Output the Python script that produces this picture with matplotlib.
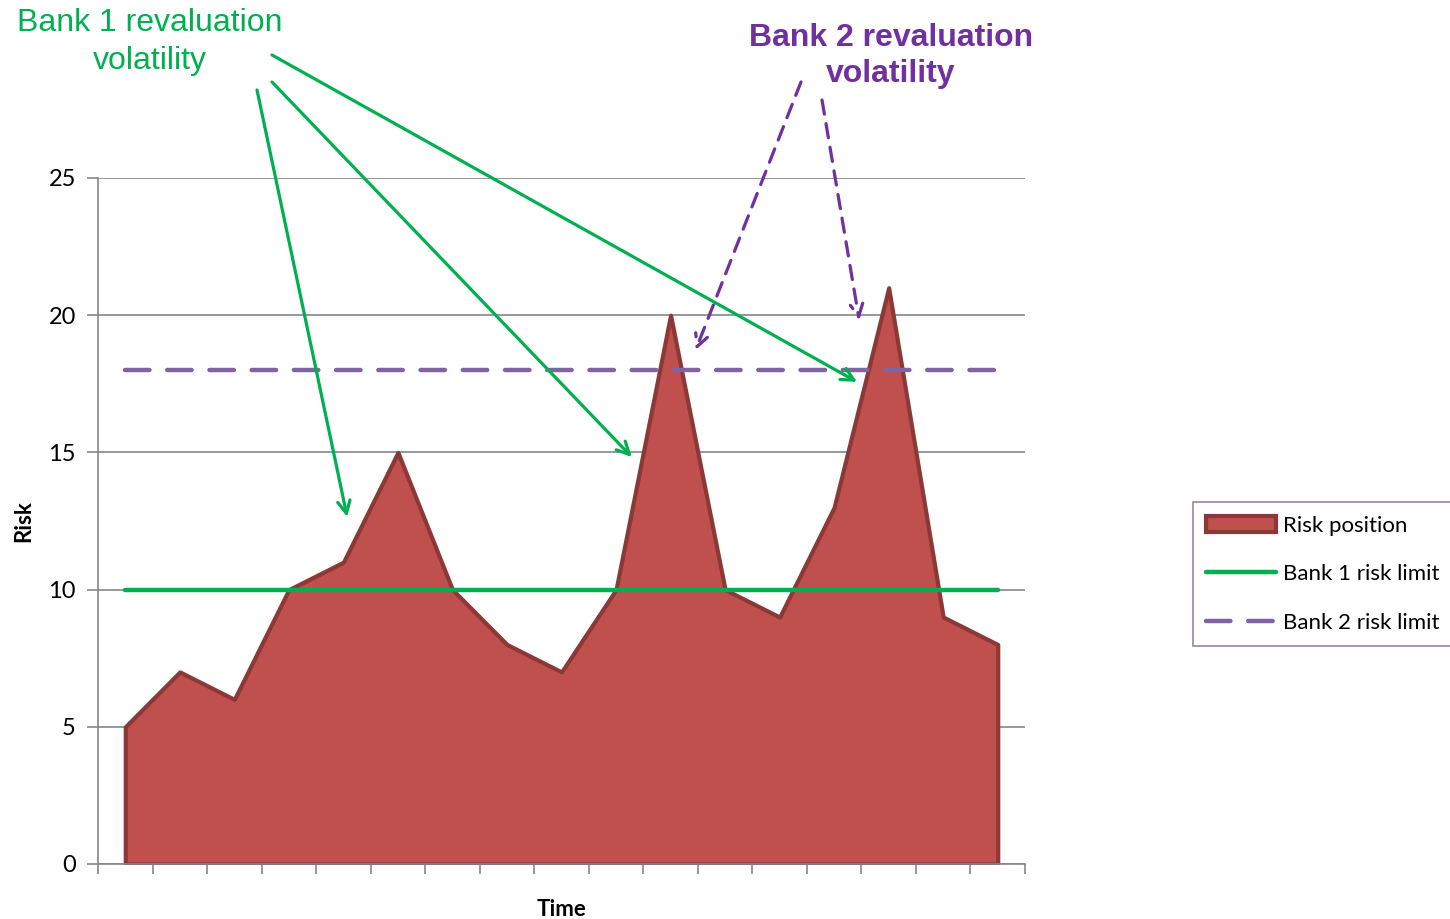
import matplotlib
matplotlib.use("Agg")
import matplotlib.pyplot as plt
import numpy as np

# risk position over time, plus the two banks' limits
periods = list(range(17))
risk_position = [5, 7, 6, 10, 11, 15, 10, 8, 7, 10, 20, 10, 9, 13, 21, 9, 8]
bank1_limit = 10
bank2_limit = 18
y_ticks = [0, 5, 10, 15, 20, 25]

plt.rcParams['font.family'] = ['Lato', 'DejaVu Sans']

fig = plt.figure(figsize=(14.5, 9.19), dpi=100)
ax = fig.add_axes([98 / 1450, 1 - 864 / 919, 927 / 1450, 686 / 919])

grey = '#868686'
ax.fill_between(periods, risk_position, 0, facecolor='#C0504D',
                edgecolor='#8C3836', linewidth=3, label='Risk position', zorder=2)
ax.plot([periods[0], periods[-1]], [bank1_limit] * 2, color='#00B050', lw=3.2,
        solid_capstyle='round', label='Bank 1 risk limit', zorder=3)
ax.plot([periods[0], periods[-1]], [bank2_limit] * 2, color='#8064A2', lw=3.2,
        dashes=(5.5, 4), dash_capstyle='round', label='Bank 2 risk limit', zorder=3)

ax.set_xlim(-0.5, len(periods) - 0.5)
ax.set_ylim(0, 25)
ax.set_yticks(y_ticks)
ax.set_xticks(np.arange(-0.5, len(periods) + 0.5, 1))
ax.set_xticklabels([])
ax.tick_params(axis='x', direction='out', length=7, width=1.2, color=grey)
ax.tick_params(axis='y', direction='out', length=8, width=1.2, color=grey,
               labelsize=17, pad=8)
ax.yaxis.grid(True, color=grey, lw=1.2, zorder=0)
ax.set_axisbelow(True)
for side in ('top', 'right'):
    ax.spines[side].set_visible(False)
for side in ('left', 'bottom'):
    ax.spines[side].set_color(grey)
    ax.spines[side].set_linewidth(1.2)

ax.set_ylabel('Risk', fontsize=16, fontweight='bold', labelpad=10)
ax.set_xlabel('Time', fontsize=16, fontweight='bold', labelpad=15)

leg = fig.legend(loc='lower left', bbox_to_anchor=(1193 / 1450, 1 - 646 / 919),
                 fontsize=16, handlelength=3.15, labelspacing=1.28,
                 fancybox=False, borderpad=0.6, handletextpad=0.3,
                 borderaxespad=0)
leg.get_frame().set_edgecolor('#8064A2')
leg.get_frame().set_linewidth(1.2)

H = 919
green = '#00B050'
purple = '#7030A0'
fig.text(150 / 1450, 1 - 42 / H, 'Bank 1 revaluation\nvolatility', color=green,
         family='Liberation Sans', fontsize=23, ha='center', va='center',
         linespacing=1.38)
fig.text(891 / 1450, 1 - 56 / H, 'Bank 2 revaluation\nvolatility', color=purple,
         family='Liberation Sans', fontweight='bold', fontsize=23, ha='center',
         va='center', linespacing=1.25)

# arrows pointing from the labels down to the spikes
green_arrows = [((257, 90), (4.07, 12.65)),
                ((272, 82), (9.29, 14.83)),
                ((272, 55), (13.42, 17.57))]
for (sx, sy), tip in green_arrows:
    ax.annotate('', xy=tip, xycoords='data', xytext=(sx, H - sy),
                textcoords='figure pixels', annotation_clip=False,
                arrowprops=dict(arrowstyle='->,head_length=0.9,head_width=0.45',
                                color=green, lw=2.3, shrinkA=0, shrinkB=0))

purple_arrows = [((801, 82), (10.46, 18.73)),
                 ((822, 100), (13.46, 19.82))]
for (sx, sy), tip in purple_arrows:
    ax.annotate('', xy=tip, xycoords='data', xytext=(sx, H - sy),
                textcoords='figure pixels', annotation_clip=False,
                arrowprops=dict(arrowstyle='->,head_length=0.9,head_width=0.45',
                                color='#7030A0', lw=2.3, linestyle=(0, (4.5, 3)),
                                shrinkA=0, shrinkB=0))

fig.savefig('out.png', dpi=100)
